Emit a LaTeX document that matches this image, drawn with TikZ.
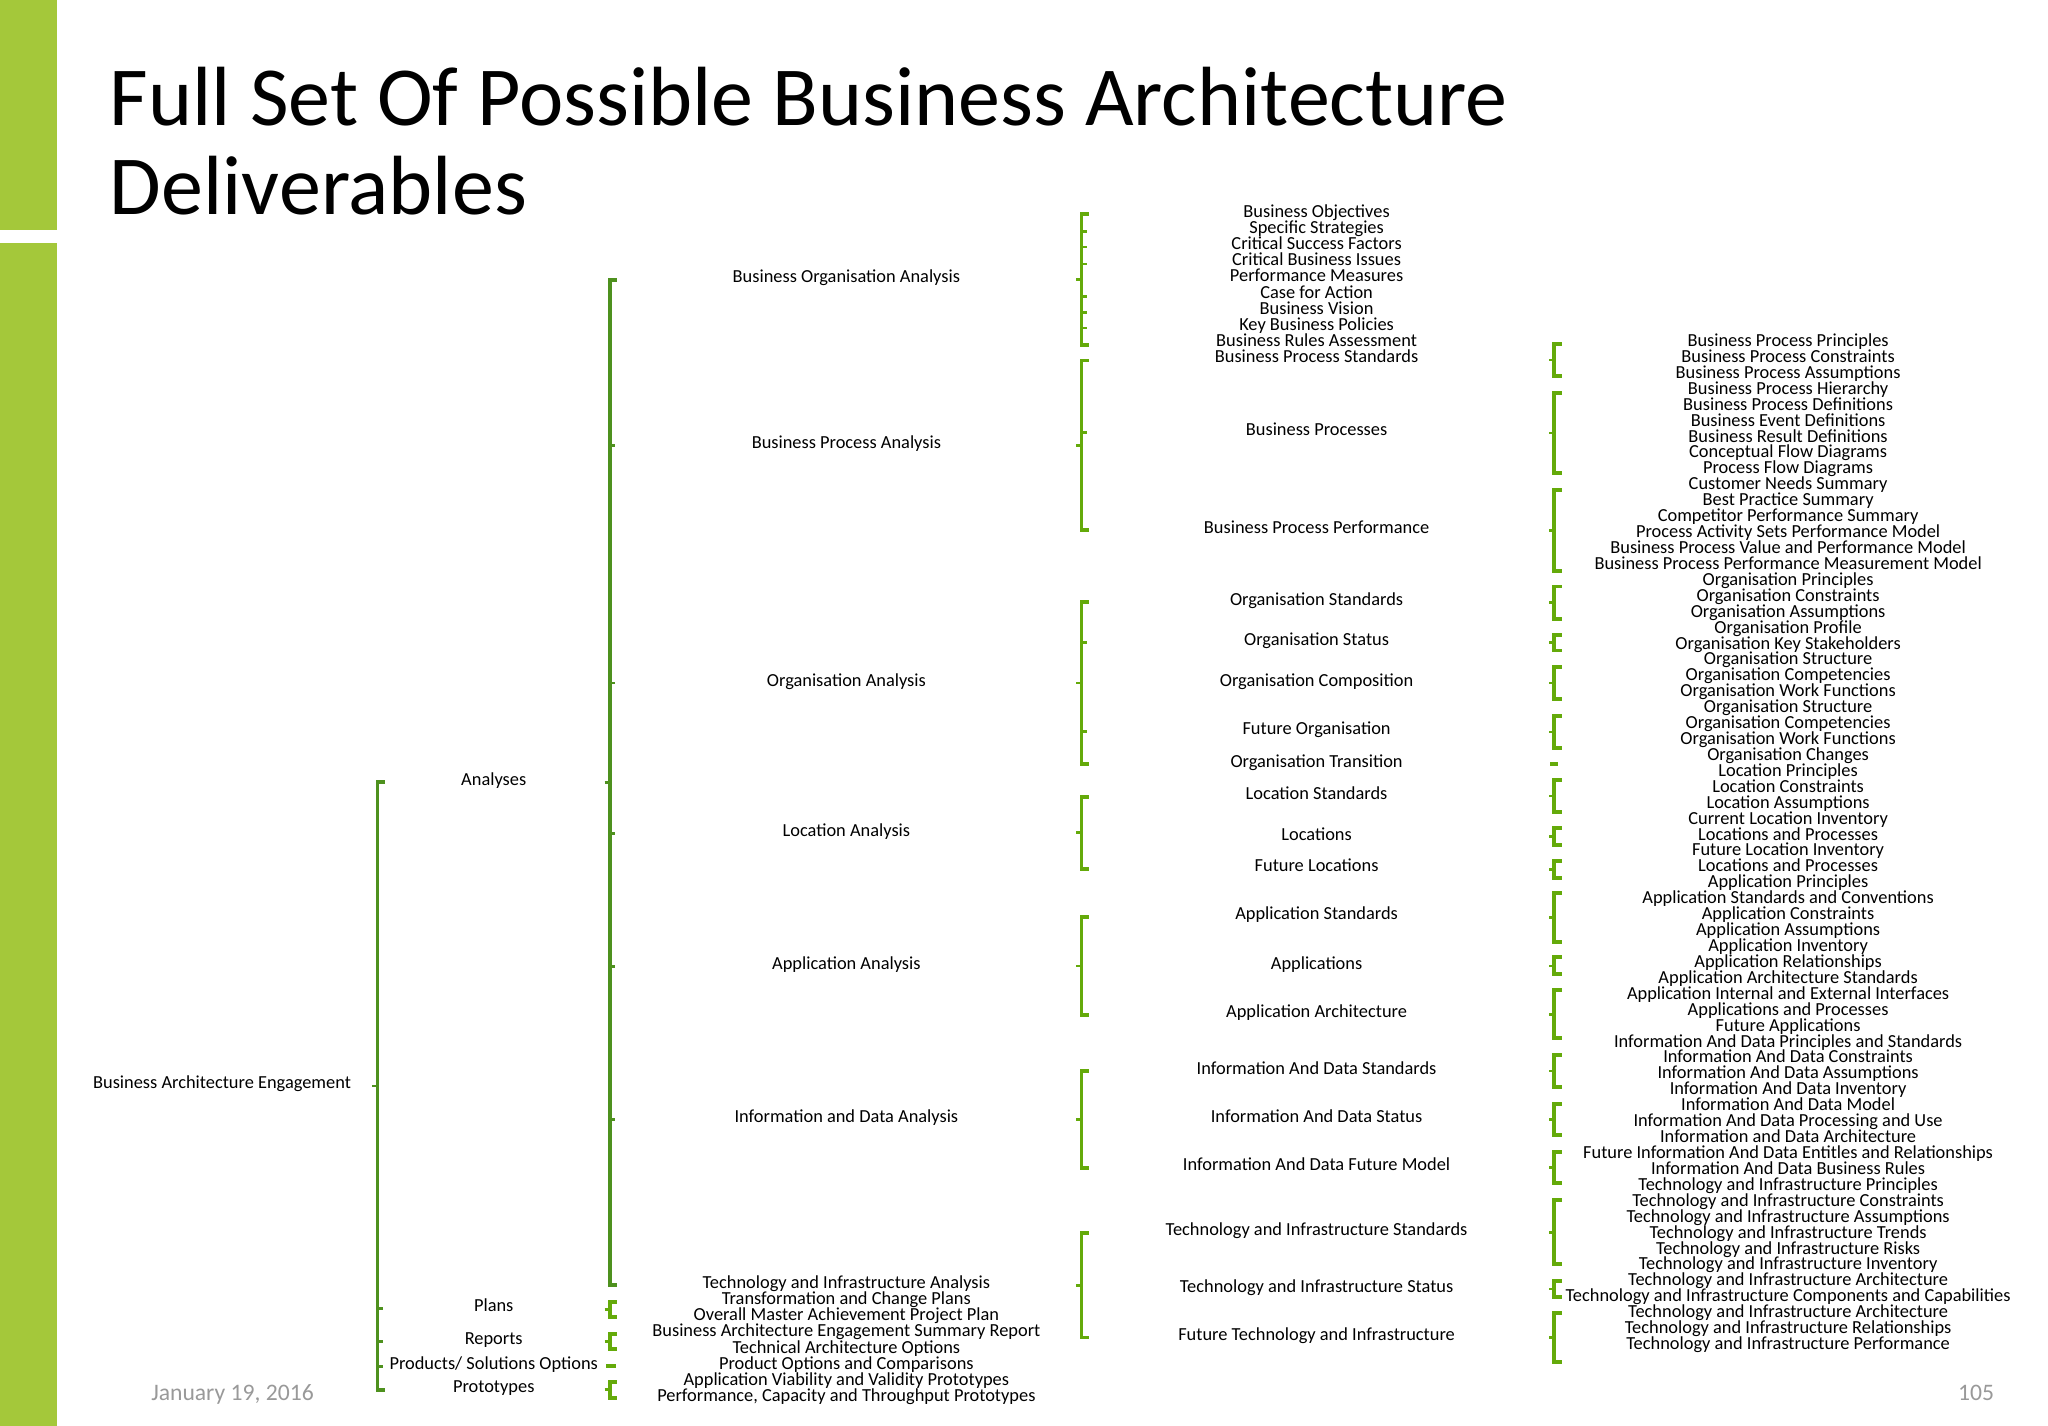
\documentclass[tikz,border=0pt]{standalone}
\usepackage{fontspec}
\setmainfont{Carlito}
\definecolor{barg}{RGB}{164,200,58}
\definecolor{dkg}{RGB}{78,145,30}
\definecolor{ltg}{RGB}{100,170,10}
\begin{document}
\begin{tikzpicture}[x=0.995pt,y=-0.995pt,
  txt/.style={inner sep=0pt,font=\fontsize{14}{14}\selectfont,anchor=center,text height=9.5pt,text depth=3pt},
  brk/.style={line width=3pt,line cap=rect}]
\useasboundingbox[fill=white] (0,0) rectangle (1568,1091.6);
\fill[barg] (0,0) rectangle (44,176);
\fill[barg] (0,186) rectangle (44,1091.6);
\begin{scope}[yshift=-3pt]
\node[anchor=west,align=left,inner sep=0pt,font=\fontsize{64}{68}\selectfont] (title) at (84,105) {Full Set Of Possible Business Architecture\\Deliverables};
\node[txt,text=gray!80,font=\fontsize{18}{18}\selectfont] (date) at (178,1066) {January 19, 2016};
\node[txt,text=gray!80,font=\fontsize{18}{18}\selectfont] (page) at (1513,1066) {105};
\newcommand\mybr[5]{%
  \draw[brk,#1] (#2+4,#3)--(#2,#3)--(#2,#4)--(#2+4,#4);
  \foreach \yy in {#5} {\draw[#1,line width=2pt] (#2,\yy)--(#2+4,\yy);}
  \draw[#1,line width=2pt] (#2-4,{(#3+#4)/2})--(#2,{(#3+#4)/2});}
% level 0
\node[txt] (root) at (170,827) {Business Architecture Engagement};
\mybr{dkg}{289}{596}{1061}{999,1024,1043}
% level 1
\node[txt] (an) at (378,595) {Analyses};
\node[txt] (pl) at (378,998) {Plans};
\node[txt] (rp) at (378,1023) {Reports};
\node[txt] (pr) at (378,1042) {Products/ Solutions Options};
\node[txt] (pt) at (378,1060) {Prototypes};
\mybr{dkg}{467}{211}{981}{338,520,635,737,854}
\mybr{ltg}{467}{994}{1005}{}
\mybr{ltg}{467}{1018}{1030}{}
\draw[ltg,line width=3pt] (464,1043)--(472,1043);
\mybr{ltg}{467}{1055}{1067}{}
% level 2 analyses
\node[txt] (a1) at (648,210) {Business Organisation Analysis};
\node[txt] (a2) at (648,337) {Business Process Analysis};
\node[txt] (a3) at (648,519) {Organisation Analysis};
\node[txt] (a4) at (648,634) {Location Analysis};
\node[txt] (a5) at (648,736) {Application Analysis};
\node[txt] (a6) at (648,853) {Information and Data Analysis};
\foreach \t [count=\i from 0] in {Technology and Infrastructure Analysis,Transformation and Change Plans,Overall Master Achievement Project Plan,Business Architecture Engagement Summary Report,Technical Architecture Options,Product Options and Comparisons,Application Viability and Validity Prototypes,{Performance, Capacity and Throughput Prototypes}}
  \node[txt] (b\i) at (648,980+\i*12.4) {\t};
% level 3 column
\foreach \t [count=\i from 0] in {Business Objectives,Specific Strategies,Critical Success Factors,Critical Business Issues,Performance Measures,Case for Action,Business Vision,Key Business Policies,Business Rules Assessment,Business Process Standards}
  \node[txt] (c\i) at (1008,160+\i*12.4) {\t};
\foreach \t/\y [count=\i from 0] in {Business Processes/327,Business Process Performance/402,Organisation Standards/457,Organisation Status/488,Organisation Composition/519,Future Organisation/556,Organisation Transition/581,Location Standards/606,Locations/637,Future Locations/661,Application Standards/698,Applications/736,Application Architecture/773,Information And Data Standards/816,Information And Data Status/853,Information And Data Future Model/890,Technology and Infrastructure Standards/940,Technology and Infrastructure Status/983,Future Technology and Infrastructure/1020}
  \node[txt] (d\i) at (1008,\y) {\t};
\mybr{ltg}{828}{161}{261}{174,186,199,224,236,248}
\mybr{ltg}{828}{273}{403}{328}
\mybr{ltg}{828}{458}{582}{489,557}
\mybr{ltg}{828}{607}{662}{}
\mybr{ltg}{828}{699}{774}{}
\mybr{ltg}{828}{817}{891}{}
\mybr{ltg}{828}{941}{1021}{}
% level 4 column
\foreach \t [count=\i from 0] in {Business Process Principles,Business Process Constraints,Business Process Assumptions,Business Process Hierarchy,Business Process Definitions,Business Event Definitions,Business Result Definitions,Conceptual Flow Diagrams,Process Flow Diagrams,Customer Needs Summary,Best Practice Summary,Competitor Performance Summary,Process Activity Sets Performance Model,Business Process Value and Performance Model,Business Process Performance Measurement Model,Organisation Principles,Organisation Constraints,Organisation Assumptions,Organisation Profile,Organisation Key Stakeholders,Organisation Structure,Organisation Competencies,Organisation Work Functions,Organisation Structure,Organisation Competencies,Organisation Work Functions,Organisation Changes,Location Principles,Location Constraints,Location Assumptions,Current Location Inventory,Locations and Processes,Future Location Inventory,Locations and Processes,Application Principles,Application Standards and Conventions,Application Constraints,Application Assumptions,Application Inventory,Application Relationships,Application Architecture Standards,Application Internal and External Interfaces,Applications and Processes,Future Applications,Information And Data Principles and Standards,Information And Data Constraints,Information And Data Assumptions,Information And Data Inventory,Information And Data Model,Information And Data Processing and Use,Information and Data Architecture,Future Information And Data Entitles and Relationships,Information And Data Business Rules,Technology and Infrastructure Principles,Technology and Infrastructure Constraints,Technology and Infrastructure Assumptions,Technology and Infrastructure Trends,Technology and Infrastructure Risks,Technology and Infrastructure Inventory,Technology and Infrastructure Architecture,Technology and Infrastructure Components and Capabilities,Technology and Infrastructure Architecture,Technology and Infrastructure Relationships,Technology and Infrastructure Performance}
  \node[txt] (e\i) at (1369,259+\i*12.19) {\t};
\foreach \a/\b in {260/285,298/359,372/434,446/471,483/495,508/532,545/570,594/619,631/644,656/669,681/718,730/743,755/792,805/829,842/866,879/903,916/965,978/990,1002/1040}
  \mybr{ltg}{1190}{\a}{\b}{}
\draw[ltg,line width=3pt] (1187,582)--(1193,582);
\end{scope}
\end{tikzpicture}
\end{document}
